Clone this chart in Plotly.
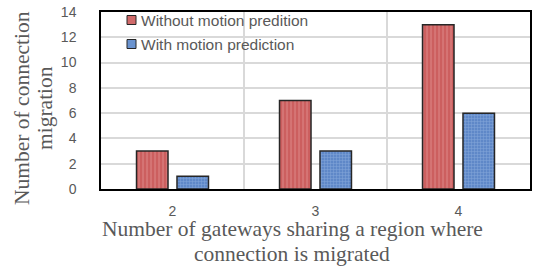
import plotly.graph_objects as go

categories = ["2", "3", "4"]
without_pred = [3, 7, 13]
with_pred = [1, 3, 6]
series_names = ["Without motion predition", "With motion prediction"]
colors = ["#D06A6A", "#6A93CF"]

fig = go.Figure()
fig.add_trace(go.Bar(
    x=categories, y=without_pred, name=series_names[0], showlegend=False,
    marker=dict(color=colors[0], line=dict(color="#262626", width=1.5),
                pattern=dict(shape="|", fgcolor="#E9A3A3", bgcolor="#CC5F5F", size=4, solidity=0.3)),
))
fig.add_trace(go.Bar(
    x=categories, y=with_pred, name=series_names[1], showlegend=False,
    marker=dict(color=colors[1], line=dict(color="#262626", width=1.5),
                pattern=dict(shape="+", fgcolor="#A9C4EA", bgcolor="#5F88C8", size=3, solidity=0.3)),
))

W, H = 534, 268
L, R, T, B = 101, 4, 12, 79

def px(x):
    return (x - L) / (W - L - R)

def py(y):
    return (H - B - y) / (H - T - B)

fig.update_layout(
    width=W, height=H,
    margin=dict(l=L, r=R, t=T, b=B),
    paper_bgcolor="white", plot_bgcolor="white",
    barmode="group", bargap=0.434, bargroupgap=0.222,
    showlegend=False,
    xaxis=dict(
        automargin=False,
        showgrid=False, showline=True, linecolor="black", linewidth=1.5, mirror=True,
        tickfont=dict(family="Liberation Sans", size=14, color="#595959"),
        ticks="", ticklabelstandoff=8,
    ),
    yaxis=dict(
        automargin=False,
        range=[0, 14], dtick=2, showgrid=True, gridcolor="#D9D9D9", gridwidth=2,
        showline=True, linecolor="black", linewidth=1.5, mirror=True,
        tickfont=dict(family="Liberation Sans", size=14, color="#595959"),
        ticks="", ticklabelstandoff=20, zeroline=False,
    ),
)

# vertical category separators
for xv in [0.5, 1.5]:
    fig.add_shape(type="line", x0=xv, x1=xv, y0=0, y1=1, xref="x", yref="paper",
                  line=dict(color="#D9D9D9", width=2), layer="below")

# legend (custom, inside plot top-left)
leg_y = [20, 44]
for name, col, yc in zip(series_names, colors, leg_y):
    fig.add_shape(type="rect", xref="paper", yref="paper",
                  x0=px(127), x1=px(136), y0=py(yc + 4.5), y1=py(yc - 4.5),
                  fillcolor=col, line=dict(color="#262626", width=1))
    fig.add_annotation(text=name, xref="paper", yref="paper", x=px(139), y=py(yc),
                       xanchor="left", yanchor="middle", showarrow=False,
                       font=dict(family="Liberation Sans", size=15.5, color="#595959"))

serif = dict(family="Liberation Serif", size=21.5, color="#595959")
# x-axis title
fig.add_annotation(text="Number of gateways sharing a region where", xref="paper", yref="paper",
                   x=px(292), y=py(229), xanchor="center", yanchor="middle", showarrow=False, font=serif)
fig.add_annotation(text="connection is migrated", xref="paper", yref="paper",
                   x=px(292), y=py(254), xanchor="center", yanchor="middle", showarrow=False, font=serif)
# y-axis title
fig.add_annotation(text="Number of connection", xref="paper", yref="paper",
                   x=px(22), y=py(108), xanchor="center", yanchor="middle", showarrow=False,
                   textangle=-90, font=serif)
fig.add_annotation(text="migration", xref="paper", yref="paper",
                   x=px(45), y=py(108), xanchor="center", yanchor="middle", showarrow=False,
                   textangle=-90, font=serif)

fig.write_html("out.html", config={"displayModeBar": False},
               post_script="document.body.style.margin='0';document.body.style.padding='0';")
